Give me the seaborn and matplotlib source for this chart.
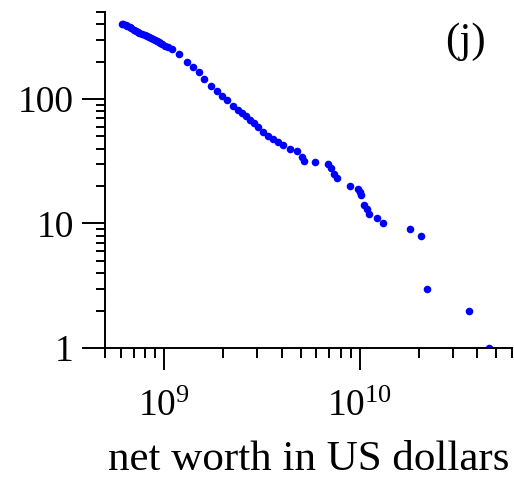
import pandas as pd
import seaborn as sns
import matplotlib.pyplot as plt
import matplotlib.ticker as mticker

# net worth (billions of US$) against rank
worth_bn = [46, 36, 22, 20.5, 18, 13.1, 12.2, 11.1, 10.9, 10.5,
            10.2, 10.0, 9.77, 8.89, 7.64, 7.36, 7.11, 6.87, 5.89, 5.18,
            5.06, 4.77, 4.40, 4.05, 3.82, 3.60, 3.39, 3.20, 3.02, 2.88,
            2.75, 2.62, 2.50, 2.39, 2.25, 2.10, 1.98, 1.86, 1.74, 1.60,
            1.51, 1.41, 1.31, 1.19, 1.10, 1.05, 1.01, 0.98, 0.96, 0.94,
            0.92, 0.90, 0.88, 0.86, 0.84, 0.82, 0.80, 0.77, 0.75, 0.74,
            0.72, 0.70, 0.68, 0.67, 0.65, 0.64, 0.62, 0.61]
rank = [1, 2, 3, 8, 9, 10, 11, 12, 13, 14,
        17, 18, 19, 20, 23, 25, 28, 30, 31, 32,
        34, 38, 40, 43, 45, 48, 50, 54, 60, 64,
        68, 73, 77, 82, 88, 98, 106, 116, 127, 145,
        165, 181, 198, 230, 252, 260, 267, 277, 282, 287,
        292, 298, 303, 309, 315, 321, 326, 333, 339, 345,
        351, 358, 369, 379, 386, 393, 397, 400]
y_ticks = [1, 10, 100]
x_ticks = [1e9, 1e10]

df = pd.DataFrame({"worth": [w * 1e9 for w in worth_bn], "rank": rank})

sns.set_style("white", {'axes.grid': False})
plt.rcParams['font.family'] = ['Liberation Serif', 'DejaVu Serif']
plt.rcParams['mathtext.fontset'] = 'custom'
plt.rcParams['mathtext.rm'] = 'Liberation Serif'
plt.rcParams['mathtext.it'] = 'Liberation Serif:italic'
plt.rcParams['text.color'] = 'black'
plt.rcParams['xtick.color'] = 'black'
plt.rcParams['ytick.color'] = 'black'
plt.rcParams['axes.labelcolor'] = 'black'

fig = plt.figure(figsize=(5.14, 4.79), dpi=100)
ax = fig.add_axes([0.2043, 0.2735, 0.7917, 0.7015])

sns.scatterplot(data=df, x="worth", y="rank", ax=ax, color="#0000ff",
                s=30, linewidth=0, legend=False)

ax.set_xscale("log")
ax.set_yscale("log")
ax.set_xlim(5e8, 6e10)
ax.set_ylim(1, 500)

ax.xaxis.set_major_locator(mticker.FixedLocator(x_ticks))
ax.xaxis.set_minor_locator(mticker.LogLocator(base=10, subs=range(2, 10), numticks=20))
ax.xaxis.set_minor_formatter(mticker.NullFormatter())
ax.yaxis.set_major_locator(mticker.FixedLocator(y_ticks))
ax.yaxis.set_major_formatter(mticker.FuncFormatter(lambda v, p: f"{v:g}"))
ax.yaxis.set_minor_locator(mticker.LogLocator(base=10, subs=range(2, 10), numticks=20))
ax.yaxis.set_minor_formatter(mticker.NullFormatter())

ax.tick_params(axis="x", which="major", direction="out", length=16, width=1.4,
               labelsize=27, pad=14, bottom=True)
ax.tick_params(axis="x", which="minor", direction="out", length=7, width=1.4,
               bottom=True)
ax.tick_params(axis="y", which="major", direction="out", length=16.5, width=1.4,
               labelsize=27, pad=6, left=True)
ax.tick_params(axis="y", which="minor", direction="out", length=6.5, width=1.4,
               left=True)

for side in ["left", "bottom"]:
    ax.spines[side].set_color("black")
    ax.spines[side].set_linewidth(1.4)
sns.despine(ax=ax)

ax.set_xlabel("net worth in US dollars", fontsize=31, labelpad=12)
ax.set_ylabel("")
ax.text(0.885, 0.91, "(j)", transform=ax.transAxes, fontsize=31,
        ha="center", va="center")

fig.savefig("out.png", dpi=100)
